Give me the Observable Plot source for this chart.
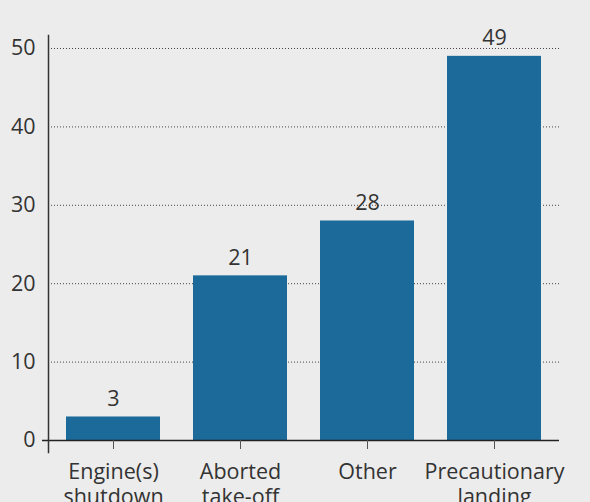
<!DOCTYPE html>
<html>
<head>
<meta charset="utf-8">
<script src="https://cdn.jsdelivr.net/npm/d3@7"></script>
<script src="https://cdn.jsdelivr.net/npm/@observablehq/plot@0.6"></script>
<style>
  html, body { margin: 0; padding: 0; background: #ececec; }
  #chart svg { display: block; background: #ececec; }
</style>
</head>
<body>
<div id="chart"></div>
<script>
const categories = ["Engine(s)\nshutdown", "Aborted\ntake-off", "Other", "Precautionary\nlanding"];
const values = [3, 21, 28, 49];
const yTicks = [0, 10, 20, 30, 40, 50];
const gridTicks = [10, 20, 30, 40, 50];

const data = categories.map((c, i) => ({category: c, value: values[i]}));

const font = "'Open Sans', sans-serif";
const fs = 21.5;

const chart = Plot.plot({
  width: 590,
  height: 502,
  marginTop: 48,
  marginBottom: 62,
  marginLeft: 48,
  marginRight: 31,
  style: {background: "#ececec", fontFamily: font, color: "#333"},
  x: {domain: categories, paddingInner: 0.256, paddingOuter: 0.128, label: null},
  y: {domain: [0, 50], label: null},
  marks: [
    Plot.gridY(gridTicks, {stroke: "#444", strokeOpacity: 1, strokeWidth: 1, strokeDasharray: "1,2"}),
    Plot.barY(data, {x: "category", y: "value", fill: "#1b6a9a"}),
    Plot.text(data, {x: "category", y: "value", text: d => String(d.value), lineAnchor: "bottom", dy: -11, fontSize: fs, fill: "#333"}),
    Plot.ruleY([0], {stroke: "#222", strokeWidth: 1.5, insetLeft: -6}),
    Plot.frame({anchor: "left", stroke: "#333", strokeWidth: 1.5, insetTop: -13, insetBottom: -12}),
    Plot.axisY({ticks: yTicks, tickSize: 0, tickPadding: 13, fontSize: fs, label: null, fill: "#333"}),
    Plot.axisX({tickSize: 9, tickPadding: 12, fontSize: fs, lineHeight: 1.16, label: null, stroke: "#555", fill: "#333"})
  ]
});
document.getElementById("chart").appendChild(chart);
</script>
</body>
</html>
